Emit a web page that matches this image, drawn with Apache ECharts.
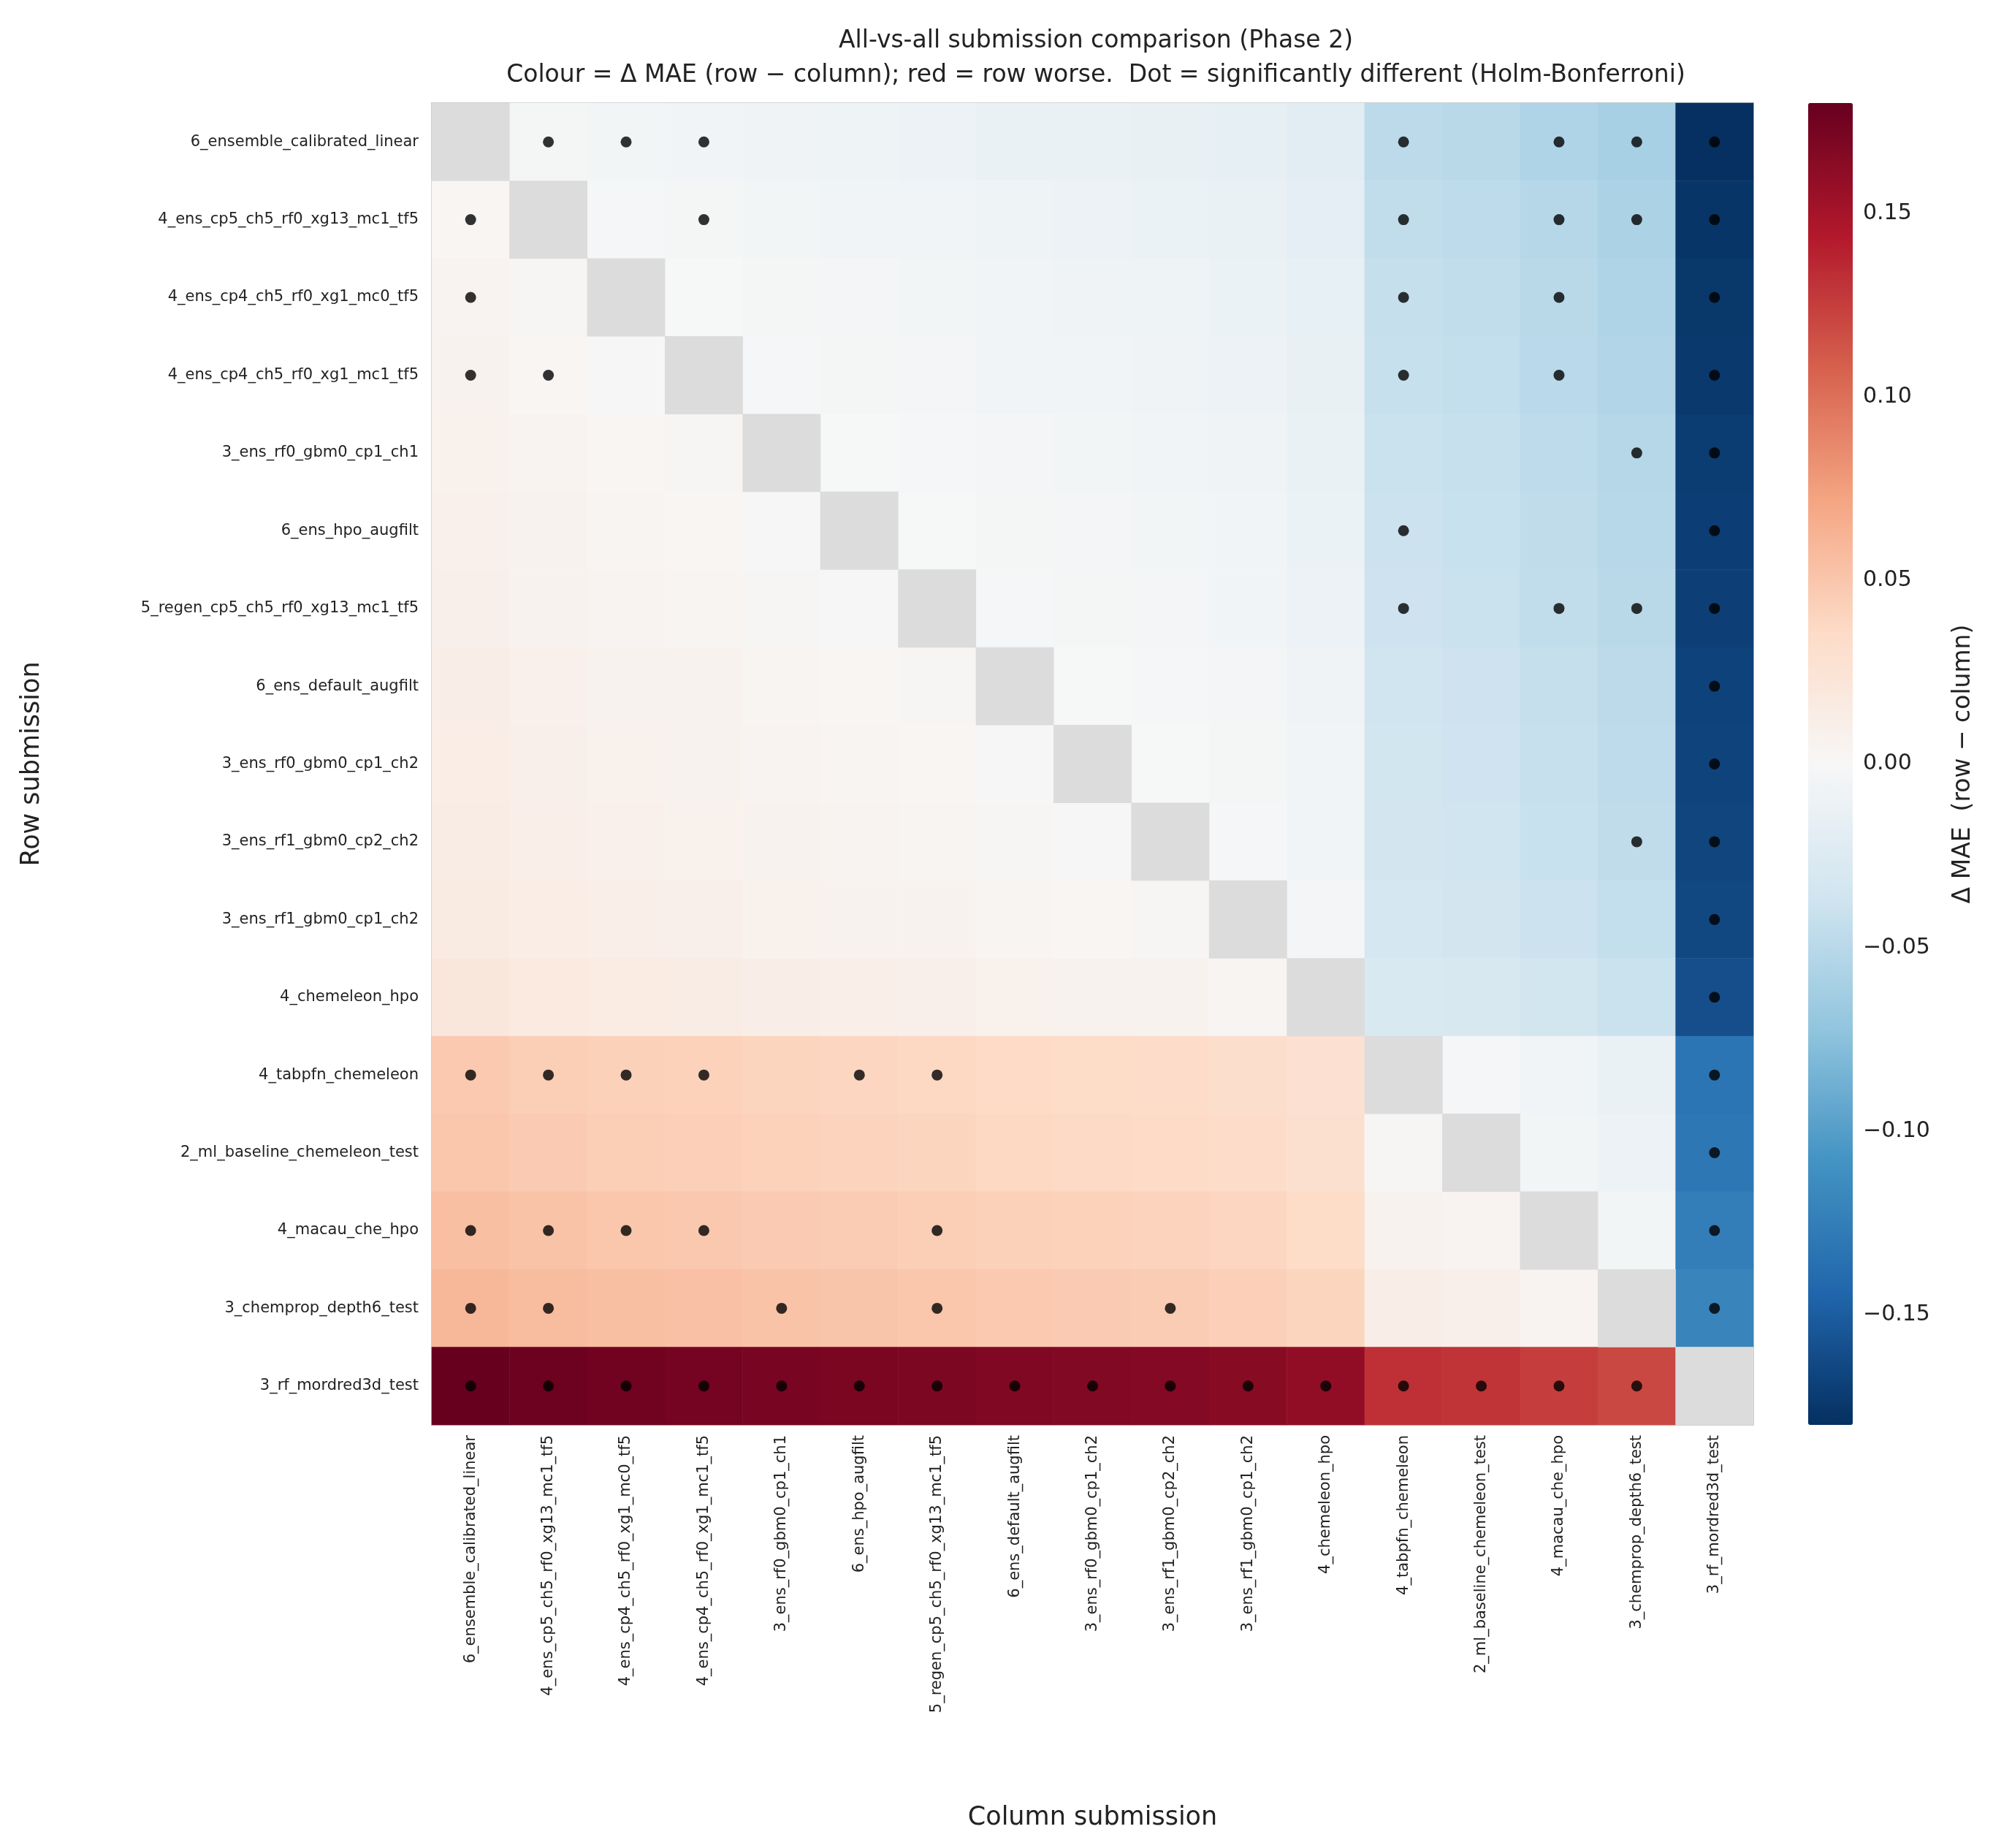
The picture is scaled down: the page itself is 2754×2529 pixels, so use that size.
<!DOCTYPE html><html><head><meta charset="utf-8">
<script src="https://cdn.jsdelivr.net/npm/echarts@6/dist/echarts.min.js"></script>
<style>html,body{margin:0;background:#fff}#c{width:2754px;height:2529px}</style></head><body><div id="c"></div>
<script>
const subs=["6_ensemble_calibrated_linear","4_ens_cp5_ch5_rf0_xg13_mc1_tf5","4_ens_cp4_ch5_rf0_xg1_mc0_tf5","4_ens_cp4_ch5_rf0_xg1_mc1_tf5","3_ens_rf0_gbm0_cp1_ch1","6_ens_hpo_augfilt","5_regen_cp5_ch5_rf0_xg13_mc1_tf5","6_ens_default_augfilt","3_ens_rf0_gbm0_cp1_ch2","3_ens_rf1_gbm0_cp2_ch2","3_ens_rf1_gbm0_cp1_ch2","4_chemeleon_hpo","4_tabpfn_chemeleon","2_ml_baseline_chemeleon_test","4_macau_che_hpo","3_chemprop_depth6_test","3_rf_mordred3d_test"];
const relMAE=[0,0.003,0.005,0.006,0.008,0.009,0.010,0.012,0.013,0.014,0.016,0.020,0.048,0.050,0.055,0.060,0.180];
// significant pairs: row index -> column indices
const sigDots=[[1,2,3,12,14,15,16],[0,3,12,14,15,16],[0,12,14,16],[0,1,12,14,16],[15,16],[12,16],[12,14,15,16],[16],[16],[15,16],[16],[16],[0,1,2,3,5,6,16],[16],[0,1,2,3,6,16],[0,1,4,6,9,16],[0,1,2,3,4,5,6,7,8,9,10,11,12,13,14,15]];
const cbTicks=[-0.15,-0.1,-0.05,0,0.05,0.1,0.15];
const heat=[],diag=[],dots=[];
subs.forEach((r,i)=>subs.forEach((c,j)=>{if(i===j)diag.push([j,i,0]);else heat.push([j,i,+(relMAE[i]-relMAE[j]).toFixed(4)]);}));
sigDots.forEach((cols,i)=>cols.forEach(j=>dots.push([j,i])));
const F='DejaVu Sans';
const ch=echarts.init(document.getElementById('c'));
ch.setOption({
 textStyle:{fontFamily:F},
 title:{text:'All-vs-all submission comparison (Phase 2)\nColour = Δ MAE (row − column); red = row worse.  Dot = significantly different (Holm-Bonferroni)',left:1495,top:28,textAlign:'center',textStyle:{fontSize:33,fontWeight:'normal',color:'#222',lineHeight:47,fontFamily:F}},
 grid:[{left:591,top:141,width:1809,height:1809,show:true,borderColor:'#ccc',borderWidth:2,backgroundColor:'transparent'},
       {left:2475,top:141,width:61,height:1809}],
 xAxis:[{type:'category',data:subs,gridIndex:0,position:'bottom',axisLine:{show:false},axisTick:{show:false},splitLine:{show:false},
   axisLabel:{rotate:90,fontSize:21,color:'#222',margin:14,interval:0},name:'Column submission',nameLocation:'middle',nameGap:520,nameTextStyle:{fontSize:35,color:'#222'}},
   {type:'value',gridIndex:1,show:false}],
 yAxis:[{type:'category',data:subs,inverse:true,gridIndex:0,axisLine:{show:false},axisTick:{show:false},splitLine:{show:false},
   axisLabel:{fontSize:21,color:'#222',margin:18,interval:0},name:'Row submission',nameLocation:'middle',nameGap:530,nameTextStyle:{fontSize:35,color:'#222'}},
   {type:'value',gridIndex:1,min:-0.18,max:0.18,position:'right',axisLine:{show:false},splitLine:{show:false},
   axisTick:{show:true,length:8,lineStyle:{color:'#333'},customValues:cbTicks},
   axisLabel:{fontSize:30,color:'#222',margin:14,customValues:cbTicks,formatter:v=>(v<0?'−':'')+Math.abs(v).toFixed(2)},
   name:'Δ MAE  (row − column)',nameLocation:'middle',nameRotate:90,nameGap:135,nameTextStyle:{fontSize:33,color:'#222'}}],
 visualMap:{type:'continuous',min:-0.18,max:0.18,seriesIndex:0,calculable:false,left:2475,top:141,itemWidth:61,itemHeight:1809,text:['',''],showLabel:false,padding:0,
   inRange:{color:['#053061','#2166ac','#4393c3','#92c5de','#d1e5f0','#f7f7f7','#fddbc7','#f4a582','#d6604d','#b2182b','#67001f']}},
 series:[
  {type:'heatmap',data:heat,xAxisIndex:0,yAxisIndex:0},
  {type:'heatmap',data:diag,xAxisIndex:0,yAxisIndex:0,itemStyle:{color:'#dcdcdc'}},
  {type:'scatter',data:dots,xAxisIndex:0,yAxisIndex:0,symbolSize:15,itemStyle:{color:'#000'},z:5},
  {type:'scatter',data:[],xAxisIndex:1,yAxisIndex:1}
 ]
});
</script></body></html>
